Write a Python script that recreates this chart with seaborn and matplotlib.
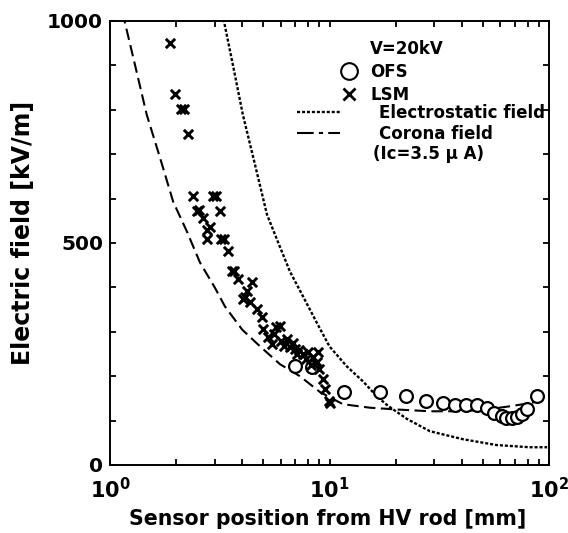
import numpy as np
import pandas as pd
import matplotlib
matplotlib.use("Agg")
import matplotlib.pyplot as plt
import seaborn as sns
from matplotlib.lines import Line2D
from matplotlib.ticker import MultipleLocator, LogLocator, NullFormatter

# OFS measurements (open circles)
ofs_x = [6.95, 8.3, 11.7, 17.0, 22.3, 27.5, 33.0, 37.2, 42.0, 47.0, 52.0, 56.0,
         61.0, 64.0, 68.0, 71.5, 75.0, 79.0, 88.0]
ofs_y = [222, 220, 165, 164, 155, 144, 139, 135, 135, 135, 128, 117,
         110, 106, 106, 108, 115, 126, 155]

# LSM measurements (crosses)
lsm_x = [1.88, 1.98, 2.10, 2.18, 2.27, 2.39, 2.50, 2.55, 2.65, 2.77, 2.86, 2.77,
         2.96, 3.04, 3.17, 3.22, 3.30, 3.45, 3.58, 3.68, 3.83, 4.43, 4.20, 4.03,
         4.10, 4.34, 4.67, 4.93, 4.98, 5.70, 5.95, 5.24, 5.47, 6.00, 6.40, 6.60,
         7.00, 7.30, 7.56, 8.00, 8.40, 8.74, 9.00, 9.35, 9.50, 9.90, 10.1, 6.20,
         7.80, 8.90, 5.60, 6.80, 7.10, 8.20]
lsm_y = [950, 836, 802, 802, 746, 605, 571, 575, 557, 530, 537, 508,
         605, 605, 571, 508, 510, 481, 436, 436, 418, 413, 391, 373,
         378, 366, 351, 333, 306, 310, 312, 288, 272, 280, 283, 265,
         262, 258, 249, 255, 243, 231, 216, 193, 171, 144, 140, 268,
         238, 255, 295, 275, 250, 225]

# calculated curves
es_x = [3.25, 3.31, 3.63, 4.03, 4.58, 5.19, 5.96, 6.6, 7.57, 8.74, 10.0, 12.0,
        14.3, 16.4, 18.5, 22.5, 28.7, 40.6, 57.6, 81.5, 98.0]
es_y = [1015, 998, 901, 789, 676, 564, 490, 436, 380, 321, 267, 222,
        187, 155, 133, 104, 76, 58, 45, 40, 40]

cor_x = [1.15, 1.17, 1.30, 1.47, 1.69, 1.94, 2.24, 2.57, 3.0, 3.34, 4.0, 4.83,
         5.95, 7.33, 9.07, 11.5, 15.3, 20.3, 28.7, 40.6, 53.7, 68.0, 83.0, 98.0]
cor_y = [1020, 996, 901, 789, 692, 593, 526, 456, 400, 357, 305, 267,
         227, 200, 164, 137, 129, 125, 121, 121, 126, 133, 140, 148]

sns.set_style("ticks")
plt.rcParams['font.family'] = ['DejaVu Sans']
plt.rcParams['font.weight'] = 'bold'
plt.rcParams['mathtext.fontset'] = 'dejavusans'
plt.rcParams['mathtext.default'] = 'bf'
for key in ['text.color', 'axes.labelcolor', 'xtick.color', 'ytick.color',
            'axes.edgecolor']:
    plt.rcParams[key] = 'black'

fig = plt.figure(figsize=(5.68, 5.33), dpi=100)
ax = fig.add_axes([110 / 568, 68 / 533, 439 / 568, 444 / 533])

ofs = pd.DataFrame({'x': ofs_x, 'y': ofs_y})
lsm = pd.DataFrame({'x': lsm_x, 'y': lsm_y})
es = pd.DataFrame({'x': es_x, 'y': es_y})
cor = pd.DataFrame({'x': cor_x, 'y': cor_y})

es_style = (0, (1.3, 0.8))
cor_style = (0, (5.5, 2.6))

sns.lineplot(data=es, x='x', y='y', ax=ax, sort=False, estimator=None,
             color='black', lw=1.7, linestyle=es_style)
sns.lineplot(data=cor, x='x', y='y', ax=ax, sort=False, estimator=None,
             color='black', lw=1.5, linestyle=cor_style)
sns.scatterplot(data=ofs, x='x', y='y', ax=ax, marker='o', s=85,
                facecolor='white', edgecolor='black', linewidth=1.6, zorder=3)
sns.scatterplot(data=lsm, x='x', y='y', ax=ax, marker='x', s=45,
                color='black', linewidth=2.1, zorder=4)

ax.set_xscale('log')
ax.set_xlim(1, 100)
ax.set_ylim(0, 1000)
ax.set_xticks([1, 10, 100])
ax.set_xticklabels([r'$10^{0}$', r'$10^{1}$', r'$10^{2}$'])
ax.xaxis.set_minor_locator(LogLocator(base=10, subs=np.arange(2, 10)))
ax.xaxis.set_minor_formatter(NullFormatter())
ax.set_yticks([0, 500, 1000])
ax.yaxis.set_minor_locator(MultipleLocator(100))
ax.tick_params(which='both', direction='in', top=True, right=True,
               width=1.3, length=4.5)
ax.tick_params(axis='x', which='major', pad=8.5, labelsize=15)
ax.tick_params(axis='y', which='major', pad=5, labelsize=14.5)
for sp in ax.spines.values():
    sp.set_linewidth(1.4)

ax.set_xlabel('Sensor position from HV rod [mm]', fontsize=14.8, fontweight='bold')
ax.set_ylabel('Electric field [kV/m]', fontsize=17, fontweight='bold')
ax.xaxis.set_label_coords(0.4966, -0.098)
ax.yaxis.set_label_coords(-0.17, 0.5225)

blank = Line2D([], [], ls='none')
h1 = [blank,
      Line2D([], [], marker='o', ls='none', mfc='white', mec='black', ms=12, mew=1.5),
      Line2D([], [], marker='x', ls='none', color='black', ms=8.5, mew=2.0)]
leg1 = ax.legend(h1, ['V=20kV', 'OFS', 'LSM'], loc='center left',
                 bbox_to_anchor=(0.526, 0.885), frameon=False, fontsize=12,
                 handlelength=1.0, handletextpad=0.77, labelspacing=0.3,
                 borderpad=0, borderaxespad=0)
ax.add_artist(leg1)

h2 = [Line2D([], [], color='black', lw=1.7, linestyle=es_style),
      Line2D([], [], color='black', lw=1.5, linestyle=(0, (8, 2.5, 2, 2.5)))]
ax.legend(h2, ['Electrostatic field', 'Corona field'], loc='center left',
          bbox_to_anchor=(0.426, 0.770), frameon=False, fontsize=12,
          handlelength=2.6, handletextpad=2.3, labelspacing=0.17,
          borderpad=0, borderaxespad=0)
ax.text(0.599, 0.700, '(Ic=3.5 μ A)', transform=ax.transAxes,
        fontsize=12, fontweight='bold', va='center', ha='left')

fig.savefig('out.png', dpi=100)
